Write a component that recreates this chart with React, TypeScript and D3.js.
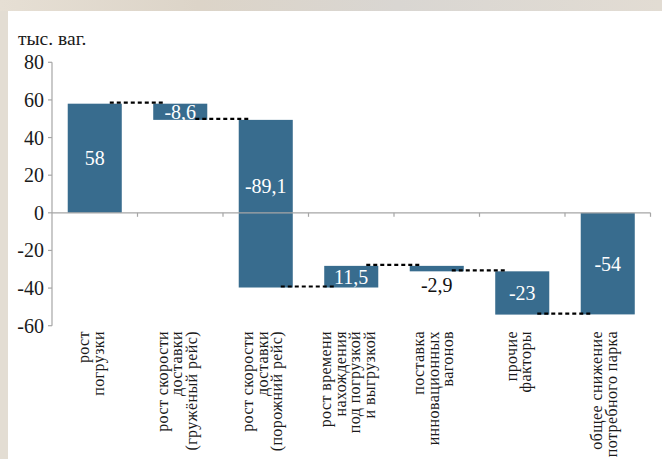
import React from "react";
import * as d3 from "d3";

const categories: string[][] = [
  ["рост", "погрузки"],
  ["рост скорости", "доставки", "(гружёный рейс)"],
  ["рост скорости", "доставки", "(порожний рейс)"],
  ["рост времени", "нахождения", "под погрузкой", "и выгрузкой"],
  ["поставка", "инновационных", "вагонов"],
  ["прочие", "факторы"],
  ["общее снижение", "потребного парка"],
];
const values: number[] = [58, -8.6, -89.1, 11.5, -2.9, -23, -54];
const valueLabels: string[] = ["58", "-8,6", "-89,1", "11,5", "-2,9", "-23", "-54"];
const isTotal: boolean[] = [false, false, false, false, false, false, true];
const yTicks: number[] = [80, 60, 40, 20, 0, -20, -40, -60];
const unitLabel = "тыс. ваг.";

const W = 662;
const H = 459;
const FONT = "Liberation Serif";
const BAR = "#386c8e";
const AXIS = "#a6a6a6";

export default function App() {
  const y = d3.scaleLinear().domain([-60, 80]).range([325.7, 62.3]);
  const ids = categories.map((_, i) => String(i));
  const x = d3
    .scaleBand<string>()
    .domain(ids)
    .range([52, 650.5])
    .paddingInner(0.368)
    .paddingOuter(0.184);
  const step = x.step();
  const bw = x.bandwidth();

  let cum = 0;
  const segs = values.map((v, i) => {
    let start: number, end: number;
    if (isTotal[i]) {
      start = 0;
      end = v;
    } else {
      start = cum;
      end = cum + v;
    }
    cum = end;
    return { i, start, end, v };
  });

  const x0 = 52;
  const xEnd = 650.5;

  return (
    <svg
      width={W}
      height={H}
      fontFamily={FONT}
      style={{ position: "absolute", left: 0, top: 0, display: "block", fontFamily: FONT }}
    >
      <style>{`text { font-family: "Liberation Serif", serif; }`}</style>
      <defs>
        <linearGradient id="bgTop" x1="0" x2="1" y1="0" y2="0">
          <stop offset="0" stopColor="#e6dfd4" />
          <stop offset="0.3" stopColor="#dcd4c8" />
          <stop offset="0.6" stopColor="#d9d6d2" />
          <stop offset="1" stopColor="#e2dcd3" />
        </linearGradient>
      </defs>
      <rect x={0} y={0} width={W} height={H} fill="#e3ddd3" />
      <rect x={0} y={0} width={W} height={11} fill="url(#bgTop)" />
      <rect x={8} y={11} width={W - 8} height={H - 11} fill="#ffffff" />

      <text x={18} y={45} fontSize={19.5} fill="#1a1a1a" fontFamily={FONT}>
        {unitLabel}
      </text>

      <line x1={x0} x2={x0} y1={y(80)} y2={y(-60)} stroke={AXIS} strokeWidth={1.2} />
      {yTicks.map((t) => (
        <g key={t}>
          <line x1={x0 - 4} x2={x0} y1={y(t)} y2={y(t)} stroke={AXIS} strokeWidth={1.2} />
          <text
            x={44}
            y={y(t)}
            dy="0.35em"
            textAnchor="end"
            fontSize={20}
            fill="#1a1a1a"
            fontFamily={FONT}
          >
            {t}
          </text>
        </g>
      ))}

      {segs.map((s) => (
        <rect
          key={s.i}
          x={x(String(s.i))}
          y={y(Math.max(s.start, s.end))}
          width={bw}
          height={Math.abs(y(s.start) - y(s.end))}
          fill={BAR}
        />
      ))}

      <line x1={x0} x2={xEnd} y1={y(0)} y2={y(0)} stroke={AXIS} strokeWidth={1.2} />
      {d3.range(1, categories.length + 1).map((k) => (
        <line
          key={k}
          x1={x0 + k * step}
          x2={x0 + k * step}
          y1={y(0)}
          y2={y(0) + 4}
          stroke={AXIS}
          strokeWidth={1.2}
        />
      ))}

      {segs.slice(0, -1).map((s) => {
        const xa = (x(String(s.i)) as number) + bw - 12;
        const xb = (x(String(s.i + 1)) as number) + 11;
        const yy = y(s.end) - 1;
        return (
          <line
            key={s.i}
            x1={xa}
            x2={xb}
            y1={yy}
            y2={yy}
            stroke="#000"
            strokeWidth={2.2}
            strokeDasharray="4,3"
          />
        );
      })}

      {segs.map((s) => {
        const cx = (x(String(s.i)) as number) + bw / 2;
        const small = Math.abs(y(s.start) - y(s.end)) < 10;
        let cy = (y(s.start) + y(s.end)) / 2;
        if (s.i === 2) cy -= 18;
        if (small) cy = y(Math.min(s.start, s.end)) + 14;
        return (
          <text
            key={s.i}
            x={cx}
            y={cy}
            dy="0.35em"
            textAnchor="middle"
            fontSize={20}
            fill={small ? "#111" : "#ffffff"}
            fontFamily={FONT}
          >
            {valueLabels[s.i]}
          </text>
        );
      })}

      {categories.map((lines, i) => {
        const cx = (x(String(i)) as number) + bw / 2 - 3;
        const lh = 14.5;
        const top = 331;
        return (
          <g key={i}>
            {lines.map((ln, j) => {
              const lx = cx + (j - (lines.length - 1) / 2) * lh;
              return (
                <text
                  key={j}
                  x={lx}
                  y={top}
                  dy="0.3em"
                  transform={`rotate(-90, ${lx}, ${top})`}
                  textAnchor="end"
                  fontSize={16}
                  letterSpacing={0.4}
                  fill="#1a1a1a"
                  fontFamily={FONT}
                >
                  {ln}
                </text>
              );
            })}
          </g>
        );
      })}
    </svg>
  );
}
